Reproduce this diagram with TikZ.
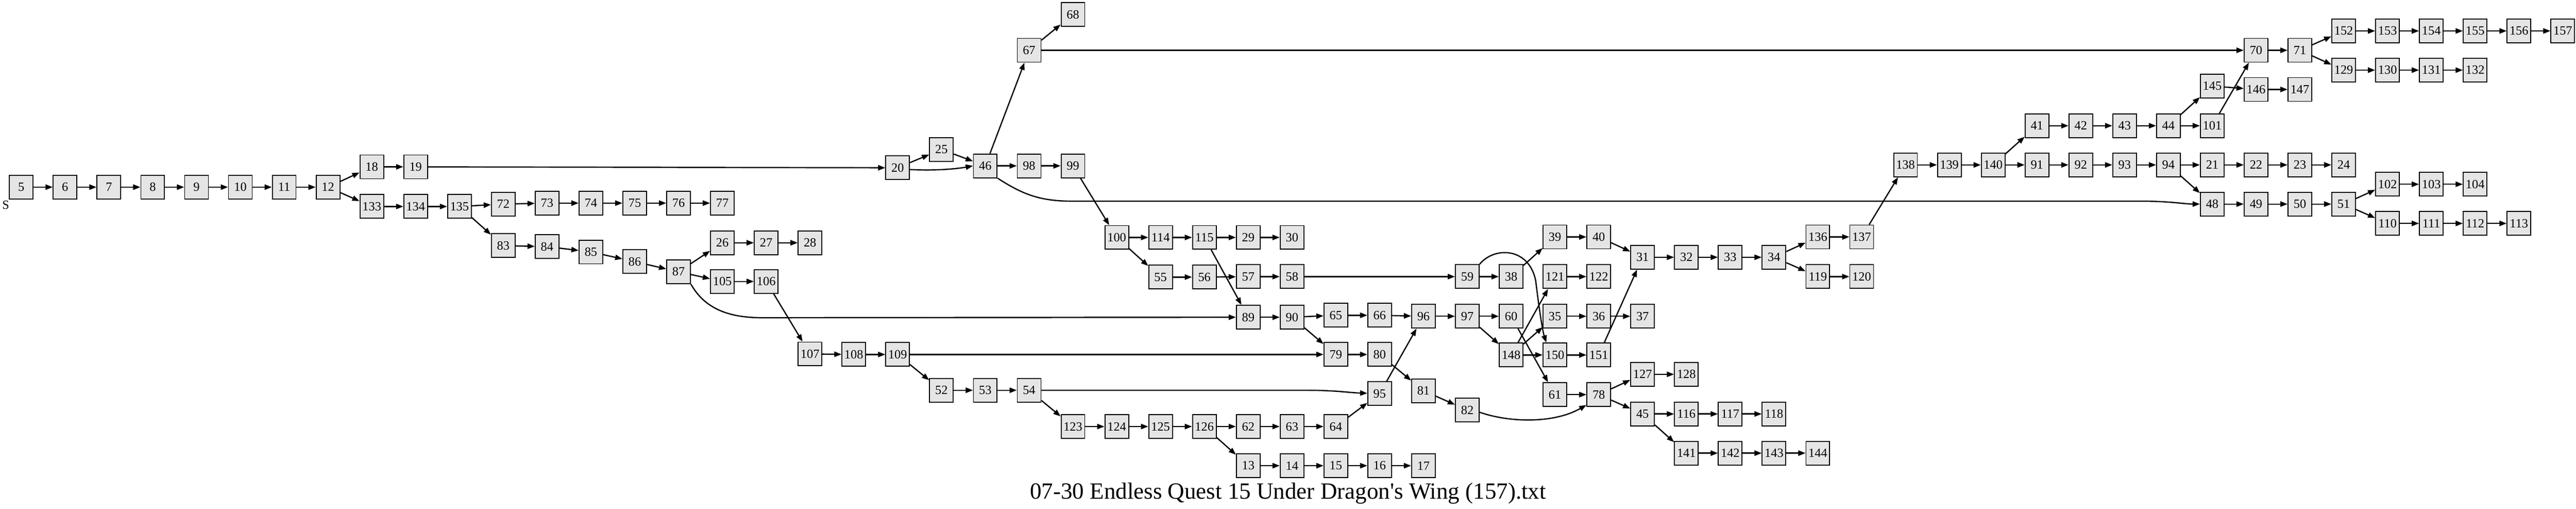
\documentclass[tikz,border=0pt]{standalone}
\usepackage{fontspec}
\setmainfont{Liberation Serif}
\usetikzlibrary{arrows.meta}
\tikzset{
  sec/.style={draw,fill=gray!20,line width=1pt,minimum width=24.5pt,
    minimum height=24.5pt,inner sep=0pt,font=\fontsize{13}{13}\selectfont},
  link/.style={line width=1.3pt,-{Triangle[length=7.5pt,width=5.5pt]}},
  lbl/.style={inner sep=0pt,font=\fontsize{13}{13}\selectfont},
  booktitle/.style={inner sep=0pt,font=\fontsize{24}{24}\selectfont}
}

\begin{document}
\begin{tikzpicture}[x=45.35pt,y=-0.5pt]
  \path[fill=white,use as bounding box] (-22pt,0pt) rectangle (2644pt,-526pt);
  % sections
  \node[sec] (n5) at (0,387) {5};   \node[sec] (n6) at (1,387) {6};
  \node[sec] (n7) at (2,387) {7};   \node[sec] (n8) at (3,387) {8};
  \node[sec] (n9) at (4,387) {9};   \node[sec] (n10) at (5,387) {10};
  \node[sec] (n11) at (6,387) {11}; \node[sec] (n12) at (7,387) {12};
  \node[lbl] (start) at (-0.353,424) {S};
  \node[sec] (n18) at (8,345) {18};   \node[sec] (n19) at (9,345) {19};
  \node[sec] (n133) at (8,427) {133}; \node[sec] (n134) at (9,427) {134};
  \node[sec] (n135) at (10,427) {135};
  \node[sec] (n72) at (11,422) {72};  \node[sec] (n73) at (12,420) {73};
  \node[sec] (n74) at (13,420) {74};  \node[sec] (n75) at (14,420) {75};
  \node[sec] (n76) at (15,420) {76};  \node[sec] (n77) at (16,420) {77};
  \node[sec] (n83) at (11,508) {83};  \node[sec] (n84) at (12,510) {84};
  \node[sec] (n85) at (13,521) {85};  \node[sec] (n86) at (14,541) {86};
  \node[sec] (n87) at (15,562) {87};
  \node[sec] (n26) at (16,502) {26};  \node[sec] (n27) at (17,502) {27};
  \node[sec] (n28) at (18,502) {28};
  \node[sec] (n105) at (16,582) {105}; \node[sec] (n106) at (17,582) {106};
  \node[sec] (n107) at (18,732) {107}; \node[sec] (n108) at (19,733) {108};
  \node[sec] (n109) at (20,733) {109};
  \node[sec] (n52) at (21,807) {52};  \node[sec] (n53) at (22,807) {53};
  \node[sec] (n54) at (23,807) {54};
  \node[sec] (n123) at (24,882) {123}; \node[sec] (n124) at (25,882) {124};
  \node[sec] (n125) at (26,882) {125}; \node[sec] (n126) at (27,882) {126};
  \node[sec] (n62) at (28,882) {62};  \node[sec] (n63) at (29,882) {63};
  \node[sec] (n64) at (30,882) {64};
  \node[sec] (n13) at (28,963) {13};  \node[sec] (n14) at (29,963) {14};
  \node[sec] (n15) at (30,963) {15};  \node[sec] (n16) at (31,963) {16};
  \node[sec] (n17) at (32,963) {17};
  \node[sec] (n20) at (20,347) {20};  \node[sec] (n25) at (21,309) {25};
  \node[sec] (n46) at (22,343) {46};
  \node[sec] (n67) at (23,104) {67};  \node[sec] (n68) at (24,30) {68};
  \node[sec] (n98) at (23,343) {98};  \node[sec] (n99) at (24,343) {99};
  \node[sec] (n100) at (25,491) {100}; \node[sec] (n114) at (26,491) {114};
  \node[sec] (n115) at (27,491) {115}; \node[sec] (n29) at (28,491) {29};
  \node[sec] (n30) at (29,491) {30};
  \node[sec] (n55) at (26,573) {55};  \node[sec] (n56) at (27,573) {56};
  \node[sec] (n57) at (28,572) {57};  \node[sec] (n58) at (29,572) {58};
  \node[sec] (n89) at (28,656) {89};  \node[sec] (n90) at (29,656) {90};
  \node[sec] (n65) at (30,652) {65};  \node[sec] (n66) at (31,652) {66};
  \node[sec] (n79) at (30,733) {79};  \node[sec] (n80) at (31,733) {80};
  \node[sec] (n95) at (31,814) {95};  \node[sec] (n81) at (32,808) {81};
  \node[sec] (n82) at (33,848) {82};
  \node[sec] (n96) at (32,654) {96};  \node[sec] (n97) at (33,654) {97};
  \node[sec] (n59) at (33,572) {59};  \node[sec] (n38) at (34,572) {38};
  \node[sec] (n60) at (34,654) {60};  \node[sec] (n148) at (34,734) {148};
  \node[sec] (n39) at (35,490) {39};  \node[sec] (n40) at (36,490) {40};
  \node[sec] (n121) at (35,572) {121}; \node[sec] (n122) at (36,572) {122};
  \node[sec] (n35) at (35,654) {35};  \node[sec] (n36) at (36,654) {36};
  \node[sec] (n37) at (37,654) {37};
  \node[sec] (n150) at (35,734) {150}; \node[sec] (n151) at (36,734) {151};
  \node[sec] (n61) at (35,816) {61};  \node[sec] (n78) at (36,816) {78};
  \node[sec] (n31) at (37,532) {31};  \node[sec] (n32) at (38,532) {32};
  \node[sec] (n33) at (39,532) {33};  \node[sec] (n34) at (40,532) {34};
  \node[sec] (n136) at (41,490) {136}; \node[sec] (n137) at (42,490) {137};
  \node[sec] (n119) at (41,572) {119}; \node[sec] (n120) at (42,572) {120};
  \node[sec] (n127) at (37,774) {127}; \node[sec] (n128) at (38,774) {128};
  \node[sec] (n45) at (37,856) {45};  \node[sec] (n116) at (38,856) {116};
  \node[sec] (n117) at (39,856) {117}; \node[sec] (n118) at (40,856) {118};
  \node[sec] (n141) at (38,937) {141}; \node[sec] (n142) at (39,937) {142};
  \node[sec] (n143) at (40,937) {143}; \node[sec] (n144) at (41,937) {144};
  \node[sec] (n138) at (43,341) {138}; \node[sec] (n139) at (44,341) {139};
  \node[sec] (n140) at (45,341) {140};
  \node[sec] (n41) at (46,260) {41};  \node[sec] (n42) at (47,260) {42};
  \node[sec] (n43) at (48,260) {43};  \node[sec] (n44) at (49,260) {44};
  \node[sec] (n145) at (50,178) {145}; \node[sec] (n101) at (50,260) {101};
  \node[sec] (n146) at (51,185) {146}; \node[sec] (n147) at (52,185) {147};
  \node[sec] (n91) at (46,341) {91};  \node[sec] (n92) at (47,341) {92};
  \node[sec] (n93) at (48,341) {93};  \node[sec] (n94) at (49,341) {94};
  \node[sec] (n21) at (50,341) {21};  \node[sec] (n22) at (51,341) {22};
  \node[sec] (n23) at (52,341) {23};  \node[sec] (n24) at (53,341) {24};
  \node[sec] (n48) at (50,422) {48};  \node[sec] (n49) at (51,422) {49};
  \node[sec] (n50) at (52,422) {50};  \node[sec] (n51) at (53,422) {51};
  \node[sec] (n102) at (54,381) {102}; \node[sec] (n103) at (55,381) {103};
  \node[sec] (n104) at (56,381) {104};
  \node[sec] (n110) at (54,462) {110}; \node[sec] (n111) at (55,462) {111};
  \node[sec] (n112) at (56,462) {112}; \node[sec] (n113) at (57,462) {113};
  \node[sec] (n70) at (51,104) {70};  \node[sec] (n71) at (52,104) {71};
  \node[sec] (n152) at (53,64) {152}; \node[sec] (n153) at (54,64) {153};
  \node[sec] (n154) at (55,64) {154}; \node[sec] (n155) at (56,64) {155};
  \node[sec] (n156) at (57,64) {156}; \node[sec] (n157) at (58,64) {157};
  \node[sec] (n129) at (53,145) {129}; \node[sec] (n130) at (54,145) {130};
  \node[sec] (n131) at (55,145) {131}; \node[sec] (n132) at (56,145) {132};
  \node[booktitle,anchor=base] (ttl) at (28.91,1032)
    {07-30 Endless Quest 15 Under Dragon\textquotesingle s Wing (157).txt};
  % choices
  \draw[link] (n5) -- (n6);   \draw[link] (n6) -- (n7);   \draw[link] (n7) -- (n8);
  \draw[link] (n8) -- (n9);   \draw[link] (n9) -- (n10);  \draw[link] (n10) -- (n11);
  \draw[link] (n11) -- (n12); \draw[link] (n12) -- (n18); \draw[link] (n12) -- (n133);
  \draw[link] (n18) -- (n19); \draw[link] (n19) -- (n20);
  \draw[link] (n133) -- (n134); \draw[link] (n134) -- (n135);
  \draw[link] (n135) -- (n72); \draw[link] (n135) -- (n83);
  \draw[link] (n72) -- (n73); \draw[link] (n73) -- (n74); \draw[link] (n74) -- (n75);
  \draw[link] (n75) -- (n76); \draw[link] (n76) -- (n77);
  \draw[link] (n83) -- (n84); \draw[link] (n84) -- (n85); \draw[link] (n85) -- (n86);
  \draw[link] (n86) -- (n87); \draw[link] (n87) -- (n26); \draw[link] (n87) -- (n105);
  \draw[link] (n87.south east) .. controls (15.55,630) and (16.0,657) .. (16.9,657) -- (n89);
  \draw[link] (n26) -- (n27); \draw[link] (n27) -- (n28);
  \draw[link] (n105) -- (n106); \draw[link] (n106) -- (n107);
  \draw[link] (n107) -- (n108); \draw[link] (n108) -- (n109);
  \draw[link] (n109) -- (n79); \draw[link] (n109) -- (n52);
  \draw[link] (n52) -- (n53); \draw[link] (n53) -- (n54); \draw[link] (n54) -- (n123);
  \draw[link] (n54) -- (29.3,807) .. controls (30.0,807) and (30.3,812) .. (n95);
  \draw[link] (n123) -- (n124); \draw[link] (n124) -- (n125); \draw[link] (n125) -- (n126);
  \draw[link] (n126) -- (n62); \draw[link] (n126) -- (n13);
  \draw[link] (n62) -- (n63); \draw[link] (n63) -- (n64); \draw[link] (n64) -- (n95);
  \draw[link] (n13) -- (n14); \draw[link] (n14) -- (n15); \draw[link] (n15) -- (n16);
  \draw[link] (n16) -- (n17);
  \draw[link] (n20) -- (n25); \draw[link] (n25) -- (n46);
  \draw[link] (n20.-8) .. controls (20.8,353) and (21.3,350) .. (n46.west);
  \draw[link] (n46) -- (n67); \draw[link] (n46) -- (n98);
  \draw[link] (n46.south east) .. controls (22.9,405) and (23.3,416) .. (24,416)
    -- (48.4,416) .. controls (49.0,416) and (49.4,422) .. (n48.west);
  \draw[link] (n67) -- (n68); \draw[link] (n67) -- (n70);
  \draw[link] (n98) -- (n99); \draw[link] (n99) -- (n100);
  \draw[link] (n100) -- (n114); \draw[link] (n100) -- (n55); \draw[link] (n114) -- (n115);
  \draw[link] (n115) -- (n29); \draw[link] (n115) -- (n89); \draw[link] (n29) -- (n30);
  \draw[link] (n55) -- (n56); \draw[link] (n56) -- (n57); \draw[link] (n57) -- (n58);
  \draw[link] (n58) -- (n59);
  \draw[link] (n89) -- (n90); \draw[link] (n90) -- (n65); \draw[link] (n90) -- (n79);
  \draw[link] (n65) -- (n66); \draw[link] (n66) -- (n96);
  \draw[link] (n79) -- (n80); \draw[link] (n80) -- (n81); \draw[link] (n81) -- (n82);
  \draw[link] (n82.-10) .. controls (34.0,875) and (35.0,875) .. (n78.220);
  \draw[link] (n95) -- (n96); \draw[link] (n96) -- (n97);
  \draw[link] (n97) -- (n60); \draw[link] (n97) -- (n148);
  \draw[link] (n59) -- (n38);
  \draw[link] (n59.north east) .. controls (33.6,510) and (34.4,510) .. (34.56,580)
    .. controls (34.64,640) and (34.72,685) .. (n150.125);
  \draw[link] (n38) -- (n39); \draw[link] (n39) -- (n40); \draw[link] (n40) -- (n31);
  \draw[link] (n148) -- (n121); \draw[link] (n148) -- (n35); \draw[link] (n148) -- (n150);
  \draw[link] (n60) -- (n61); \draw[link] (n61) -- (n78);
  \draw[link] (n121) -- (n122); \draw[link] (n35) -- (n36); \draw[link] (n36) -- (n37);
  \draw[link] (n150) -- (n151); \draw[link] (n151) -- (n31);
  \draw[link] (n31) -- (n32); \draw[link] (n32) -- (n33); \draw[link] (n33) -- (n34);
  \draw[link] (n34) -- (n136); \draw[link] (n34) -- (n119);
  \draw[link] (n136) -- (n137); \draw[link] (n137) -- (n138); \draw[link] (n119) -- (n120);
  \draw[link] (n78) -- (n127); \draw[link] (n78) -- (n45); \draw[link] (n127) -- (n128);
  \draw[link] (n45) -- (n116); \draw[link] (n45) -- (n141);
  \draw[link] (n116) -- (n117); \draw[link] (n117) -- (n118);
  \draw[link] (n141) -- (n142); \draw[link] (n142) -- (n143); \draw[link] (n143) -- (n144);
  \draw[link] (n138) -- (n139); \draw[link] (n139) -- (n140);
  \draw[link] (n140) -- (n41); \draw[link] (n140) -- (n91);
  \draw[link] (n41) -- (n42); \draw[link] (n42) -- (n43); \draw[link] (n43) -- (n44);
  \draw[link] (n44) -- (n145); \draw[link] (n44) -- (n101);
  \draw[link] (n145) -- (n146); \draw[link] (n146) -- (n147); \draw[link] (n101) -- (n70);
  \draw[link] (n91) -- (n92); \draw[link] (n92) -- (n93); \draw[link] (n93) -- (n94);
  \draw[link] (n94) -- (n21); \draw[link] (n94) -- (n48);
  \draw[link] (n21) -- (n22); \draw[link] (n22) -- (n23); \draw[link] (n23) -- (n24);
  \draw[link] (n48) -- (n49); \draw[link] (n49) -- (n50); \draw[link] (n50) -- (n51);
  \draw[link] (n51) -- (n102); \draw[link] (n51) -- (n110);
  \draw[link] (n102) -- (n103); \draw[link] (n103) -- (n104);
  \draw[link] (n110) -- (n111); \draw[link] (n111) -- (n112); \draw[link] (n112) -- (n113);
  \draw[link] (n70) -- (n71); \draw[link] (n71) -- (n152); \draw[link] (n71) -- (n129);
  \draw[link] (n152) -- (n153); \draw[link] (n153) -- (n154); \draw[link] (n154) -- (n155);
  \draw[link] (n155) -- (n156); \draw[link] (n156) -- (n157);
  \draw[link] (n129) -- (n130); \draw[link] (n130) -- (n131); \draw[link] (n131) -- (n132);
\end{tikzpicture}
\end{document}
